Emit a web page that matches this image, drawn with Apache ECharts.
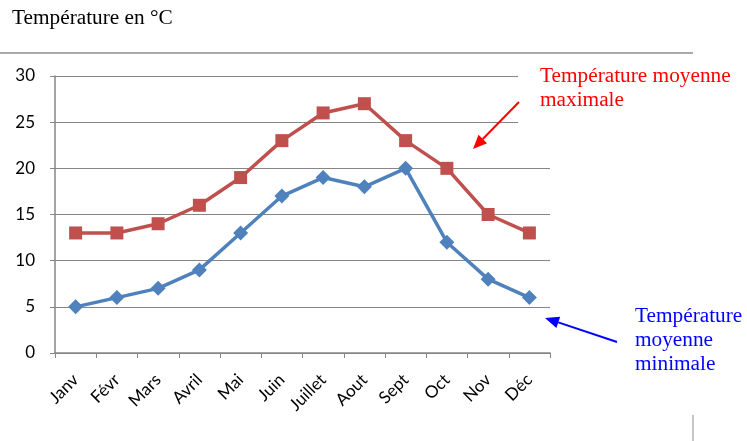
<!DOCTYPE html>
<html>
<head>
<meta charset="utf-8">
<script src="https://cdn.jsdelivr.net/npm/echarts@6/dist/echarts.min.js"></script>
<style>html,body{margin:0;padding:0;background:#fff;}#c{width:747px;height:441px;}</style>
</head>
<body>
<div id="c"></div>
<script>
const months = ['Janv','Févr','Mars','Avril','Mai','Juin','Juillet','Aout','Sept','Oct','Nov','Déc'];
const tMax = [13,13,14,16,19,23,26,27,23,20,15,13];
const tMin = [5,6,7,9,13,17,19,18,20,12,8,6];
const yTicks = {min:0, max:30, interval:5};
const titleText = 'Température en °C';
const maxLabel = 'Température moyenne\nmaximale';
const minLabel = 'Température\nmoyenne\nminimale';

const chart = echarts.init(document.getElementById('c'), null, {renderer:'canvas'});
const serif = '"Liberation Serif","Times New Roman",serif';
const sans = 'Lato,"Open Sans",sans-serif';
const grey = '#868686';
chart.setOption({
  animation:false,
  backgroundColor:'#fff',
  grid:{left:55, right:197, top:76, bottom:88, containLabel:false},
  xAxis:{
    type:'category', data:months, boundaryGap:true,
    axisLine:{lineStyle:{color:grey, width:1.5}},
    axisTick:{show:true, length:5, lineStyle:{color:grey}},
    axisLabel:{rotate:45, margin:24, color:'#000', fontFamily:sans, fontSize:17, interval:0}
  },
  yAxis:{
    type:'value', min:yTicks.min, max:yTicks.max, interval:yTicks.interval,
    axisLine:{show:true, lineStyle:{color:grey, width:1.5}},
    axisTick:{show:true, length:5, lineStyle:{color:grey}},
    splitLine:{lineStyle:{color:grey, width:1}},
    axisLabel:{margin:20, color:'#000', fontFamily:sans, fontSize:17}
  },
  series:[
    {type:'line', data:tMax, symbol:'rect', symbolSize:13, lineStyle:{color:'#C0504D', width:3.5},
     itemStyle:{color:'#C0504D'}, z:3},
    {type:'line', data:tMin, symbol:'diamond', symbolSize:[15,15], lineStyle:{color:'#4F81BD', width:3.5},
     itemStyle:{color:'#4F81BD'}, z:3}
  ],
  graphic:[
    {type:'text', x:12, y:6.6, style:{text:titleText, font:'21.3px '+serif, fill:'#000', lineHeight:24}},
    {type:'line', shape:{x1:0,y1:53,x2:693,y2:53}, style:{stroke:'#8c8c8c', lineWidth:1.5}},
    {type:'rect', shape:{x:518,y:66,width:40,height:62}, style:{fill:'#fff'}, z:10},
    {type:'text', x:540, y:64.6, z:11, style:{text:maxLabel, font:'21.3px '+serif, fill:'#FF0000', lineHeight:24}},
    {type:'line', z:11, shape:{x1:519,y1:102,x2:482.8,y2:139}, style:{stroke:'#FF0000', lineWidth:2}},
    {type:'polygon', z:11, shape:{points:[[473,149],[487.1,143.2],[478.5,134.8]]}, style:{fill:'#FF0000'}},
    {type:'text', x:635, y:304.6, z:11, style:{text:minLabel, font:'21.3px '+serif, fill:'#0000FF', lineHeight:24}},
    {type:'line', z:11, shape:{x1:617,y1:342,x2:558.3,y2:322.4}, style:{stroke:'#0000FF', lineWidth:2}},
    {type:'polygon', z:11, shape:{points:[[545,318],[560.2,316.7],[556.4,328.1]]}, style:{fill:'#0000FF'}},
    {type:'line', shape:{x1:693,y1:415,x2:693,y2:441}, style:{stroke:'#8c8c8c', lineWidth:1}}
  ]
});
</script>
</body>
</html>
